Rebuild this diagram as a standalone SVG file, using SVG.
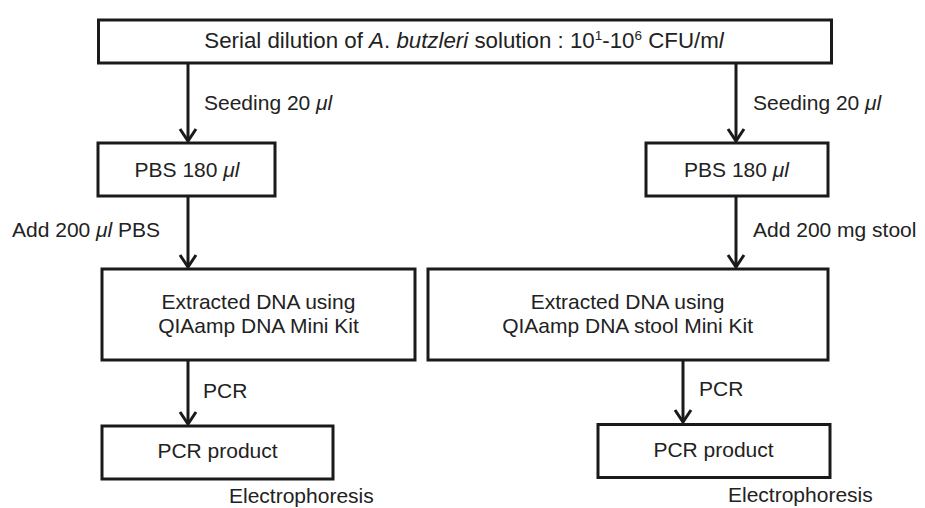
<svg xmlns="http://www.w3.org/2000/svg" width="925" height="508" viewBox="0 0 925 508">
<style>
.box{fill:#fff;stroke:#1a1a1a;stroke-width:3}
.t{font-family:"Liberation Sans",Arial,sans-serif;font-size:21px;fill:#222}
.c{text-anchor:middle}
.big{font-size:22.3px}
.sup{font-size:13.5px}
.conn{stroke:#1a1a1a;stroke-width:3;fill:none}
</style>
<defs>
<marker id="ah" markerUnits="userSpaceOnUse" markerWidth="20" markerHeight="20" refX="0" refY="0" viewBox="-14 -10 16 20" orient="auto">
<path d="M-12,-8 L0,0 L-12,8" fill="none" stroke="#1a1a1a" stroke-width="3"/>
</marker>
</defs>
<rect width="925" height="508" fill="#fff"/>
<g id="connectors">
<line class="conn" x1="188" y1="63" x2="188" y2="141" marker-end="url(#ah)"/>
<line class="conn" x1="736" y1="63" x2="736" y2="141" marker-end="url(#ah)"/>
<line class="conn" x1="188" y1="196" x2="188" y2="267" marker-end="url(#ah)"/>
<line class="conn" x1="736" y1="196" x2="736" y2="267" marker-end="url(#ah)"/>
<line class="conn" x1="188" y1="360" x2="188" y2="424" marker-end="url(#ah)"/>
<line class="conn" x1="683" y1="360" x2="683" y2="422" marker-end="url(#ah)"/>
<text class="t" x="204" y="110">Seeding 20 <tspan font-style="italic">μl</tspan></text>
<text class="t" x="753" y="110">Seeding 20 <tspan font-style="italic">μl</tspan></text>
<text class="t" x="12" y="237">Add 200 <tspan font-style="italic">μl</tspan> PBS</text>
<text class="t" x="753" y="237">Add 200 mg stool</text>
<text class="t" x="203" y="398">PCR</text>
<text class="t" x="699" y="396">PCR</text>
<text class="t" x="229" y="503">Electrophoresis</text>
<text class="t" x="728" y="502">Electrophoresis</text>
</g>
<g id="n-top">
<rect class="box" x="98.5" y="20" width="733" height="43"/>
<text class="t c big" x="464" y="48">Serial dilution of <tspan font-style="italic">A</tspan>. <tspan font-style="italic">butzleri</tspan> solution : 10<tspan class="sup" dy="-8">1</tspan><tspan dy="8">-10</tspan><tspan class="sup" dy="-8">6</tspan><tspan dy="8"> CFU/m</tspan><tspan font-style="italic">l</tspan></text>
</g>
<g id="n-pbs-left">
<rect class="box" x="98" y="143" width="177" height="53"/>
<text class="t c" x="187" y="177">PBS 180 <tspan font-style="italic">μl</tspan></text>
</g>
<g id="n-pbs-right">
<rect class="box" x="646" y="143" width="182" height="53"/>
<text class="t c" x="736.5" y="177">PBS 180 <tspan font-style="italic">μl</tspan></text>
</g>
<g id="n-extract-left">
<rect class="box" x="102" y="269" width="313" height="91"/>
<text class="t c" x="258.5" y="309">Extracted DNA using</text>
<text class="t c" x="258.5" y="333">QIAamp DNA Mini Kit</text>
</g>
<g id="n-extract-right">
<rect class="box" x="428" y="269" width="400" height="91"/>
<text class="t c" x="627.6" y="309">Extracted DNA using</text>
<text class="t c" x="627.6" y="333">QIAamp DNA stool Mini Kit</text>
</g>
<g id="n-pcr-left">
<rect class="box" x="102" y="426" width="231" height="53"/>
<text class="t c" x="217.5" y="458">PCR product</text>
</g>
<g id="n-pcr-right">
<rect class="box" x="598" y="424.5" width="232" height="53"/>
<text class="t c" x="713.5" y="457">PCR product</text>
</g>
</svg>
